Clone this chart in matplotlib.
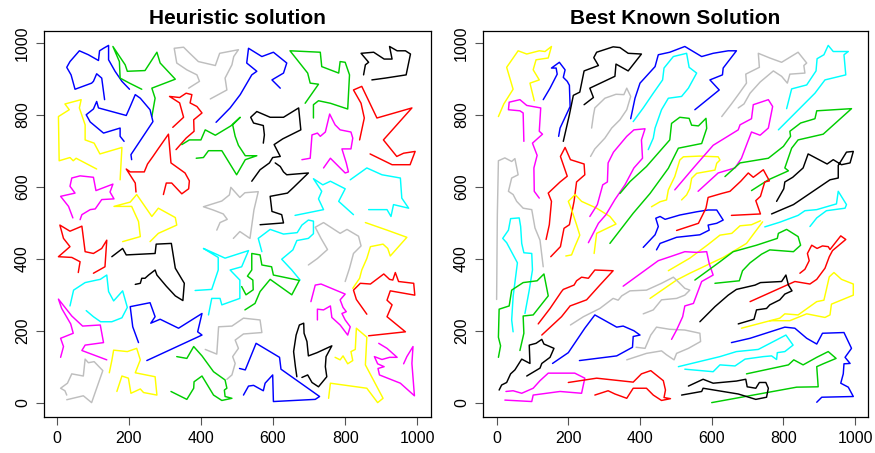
import matplotlib
matplotlib.use("Agg")
import matplotlib.pyplot as plt
from matplotlib import font_manager

# ---------------------------------------------------------------------------
# Route coordinates (x, y) for the heuristic solution
# ---------------------------------------------------------------------------
heur_01 = [(133,843),(125,903),(111,915),(102,894),(97,889),(51,872),(40,912),(28,933),(37,949),(63,979),(88,968),(116,952),(119,979),(130,986),(144,994),(144,954),(162,922),(181,894),(202,872)]
heur_02 = [(236,872),(202,889),(176,903),(174,949),(156,991),(190,940),(196,922),(245,924),(278,975),(287,945),(329,900),(264,875),(273,847),(264,796)]
heur_03 = [(366,875),(396,894),(389,912),(361,926),(333,945),(326,986),(352,989),(366,975),(393,949),(440,938),(452,972),(504,982),(491,963),(486,940),(467,903),(472,870),(426,845)]
heur_04 = [(442,780),(481,820),(509,857),(541,912),(555,922),(527,945),(532,986),(569,963),(601,975),(638,945),(629,917),(597,898),(620,875)]
heur_05 = [(111,650),(54,680),(46,673),(37,682),(7,673),(5,796),(35,815),(23,831),(68,843),(63,820),(79,773),(79,731),(104,722),(120,692),(181,710),(176,620)]
heur_06 = [(208,676),(206,690),(267,782),(259,815),(232,847),(218,857),(204,824),(193,799),(116,820),(111,838),(102,817),(82,801),(93,781),(130,750),(176,764),(176,741),(187,727)]
heur_07 = [(322,766),(352,794),(341,834),(313,852),(341,849),(359,861),(375,857),(370,834),(389,824),(403,806),(380,787),(381,755),(359,736),(331,704)]
heur_08 = [(296,579),(304,611),(319,611),(347,581),(366,595),(368,617),(356,639),(317,667),(310,747),(280,704),(267,685),(252,664),(243,642),(204,642),(193,650),(218,611),(220,586)]
heur_09 = [(347,718),(368,731),(400,731),(412,759),(440,744),(483,770),(509,794),(488,773),(495,741),(504,716),(523,687),(555,687),(523,676),(499,634),(458,701),(421,701),(407,682),(387,680)]
heur_10 = [(45,514),(33,546),(11,574),(51,583),(37,602),(42,625),(65,631),(102,627),(109,590),(156,608),(148,586),(159,567),(125,565),(107,539),(93,537),(70,523),(65,509)]
heur_11 = [(183,448),(232,462),(227,504),(208,546),(159,546),(204,558),(222,579),(264,518),(282,541),(329,515),(333,494),(282,471),(259,448)]
heur_12 = [(444,480),(453,501),(473,510),(462,525),(434,536),(407,545),(458,561),(479,578),(483,599),(508,571),(522,584),(559,587),(547,536),(536,457),(508,476),(490,457)]
heur_13 = [(60,362),(65,392),(42,404),(5,406),(37,434),(19,457),(9,494),(37,477),(56,485),(70,491),(79,420),(102,415),(125,429),(139,452),(134,378),(102,360)]
heur_14 = [(153,406),(183,429),(193,411),(273,415),(276,441),(318,443),(329,374),(354,332),(350,284),(329,297),(304,324),(278,355),(273,369),(255,355),(245,346),(236,346),(232,332),(218,329)]
heur_15 = [(37,269),(47,313),(79,334),(111,341),(121,343),(139,355),(144,309),(158,283),(183,311),(196,265),(181,236),(153,225),(122,225),(102,239),(82,256)]
heur_16 = [(11,126),(19,156),(11,179),(46,193),(39,219),(14,262),(5,288),(42,241),(72,213),(121,216),(130,167),(79,160),(70,145),(139,119)]
heur_17 = [(28,8),(74,19),(97,0),(128,89),(104,114),(88,111),(79,121),(74,74),(42,80),(30,54),(11,40),(23,33),(28,21)]
heur_18 = [(146,83),(153,117),(158,146),(196,142),(222,151),(232,119),(218,83),(273,72),(278,21),(241,28),(232,38),(206,26),(199,68),(181,74),(167,31)]
heur_19 = [(227,167),(211,211),(204,267),(259,278),(268,253),(273,239),(261,221),(287,232),(338,207),(403,248),(391,197),(403,188),(250,117)]
heur_20 = [(333,128),(361,123),(380,156),(403,130),(435,86),(467,63),(472,40),(465,35),(467,17),(486,12),(458,6),(435,21),(403,74),(381,58),(380,40),(361,9),(317,31)]
heur_21 = [(384,312),(430,315),(448,369),(448,404),(407,429),(434,417),(467,402),(532,423),(513,378),(481,369),(508,341),(508,290),(458,272),(453,290),(430,290),(421,244)]
heur_23 = [(569,420),(559,457),(592,482),(629,469),(667,473),(680,494),(698,508),(712,505),(712,470),(698,457),(666,451),(655,425),(624,399),(652,369),(675,341)]
heur_24 = [(661,521),(740,537),(726,567),(735,588),(712,623),(738,606),(759,616),(800,595),(782,560),(823,523)]
heur_25 = [(814,620),(860,653),(902,634),(953,625),(957,569),(976,541),(934,551),(927,518),(916,537),(865,537)]
heur_26 = [(851,912),(856,940),(865,947),(844,972),(879,975),(908,956),(930,956),(923,991),(944,979),(967,979),(981,970),(969,912),(911,903),(874,898)]
heur_27 = [(689,833),(726,886),(703,889),(696,917),(647,979),(731,975),(735,935),(782,917),(786,949),(800,947),(812,912),(807,817),(759,833),(726,840),(712,829),(712,792)]
heur_28 = [(573,722),(576,745),(573,771),(546,778),(538,794),(555,810),(592,794),(629,794),(671,820),(677,759),(627,734),(603,718),(620,685),(599,682),(590,667),(564,648),(541,616)]
heur_29 = [(606,667),(620,657),(629,642),(638,634),(698,639),(657,599),(640,583),(592,574),(597,532),(624,523),(629,500),(564,495)]
heur_30 = [(680,676),(703,680),(708,745),(723,750),(731,741),(745,753),(757,803),(772,773),(786,759),(816,753),(821,736),(816,706),(791,706),(803,667),(809,642),(800,639),(759,680),(740,653)]
heur_31 = [(840,731),(853,792),(844,833),(823,870),(846,880),(888,792),(985,820),(906,731),(943,685),(962,694),(994,699),(980,662),(930,662),(869,692)]
heur_32 = [(698,383),(723,401),(751,426),(733,457),(717,488),(740,501),(786,471),(805,482),(837,463),(844,436),(823,415),(812,374),(800,337)]
heur_33 = [(821,318),(840,346),(846,369),(860,401),(870,434),(905,441),(918,429),(925,408),(971,460),(916,480),(856,501)]
heur_34 = [(522,258),(550,276),(564,309),(592,343),(652,300),(673,340),(601,355),(596,378),(569,383),(564,411),(541,415),(541,369),(529,352),(544,341),(545,314),(525,300),(513,323)]
heur_35 = [(412,148),(444,135),(449,211),(486,213),(518,235),(564,230),(569,195),(518,191),(495,174),(504,151),(488,128),(495,109),(486,77),(472,65)]
heur_36 = [(507,95),(523,91),(553,165),(618,126),(622,93),(729,17),(717,9),(601,3),(599,77),(578,54),(573,33),(546,48),(532,46),(518,21)]
heur_37 = [(666,72),(662,100),(657,142),(664,188),(673,216),(685,221),(686,193),(694,170),(698,130),(722,139),(763,158),(747,128),(745,100),(749,72),(726,44),(708,56),(696,77),(680,70)]
heur_38 = [(705,281),(717,327),(733,330),(800,302),(786,286),(794,265),(803,253),(791,248),(800,230),(814,211),(807,188),(786,216),(763,237),(759,269),(740,258),(723,260),(723,230)]
heur_39 = [(860,246),(831,287),(823,313),(842,332),(870,330),(907,358),(923,343),(932,341),(939,362),(948,337),(990,332),(993,299),(925,311),(916,285),(930,272),(916,239),(967,197),(865,186)]
heur_40 = [(772,126),(786,119),(794,130),(807,108),(821,117),(816,142),(828,148),(831,207),(860,182),(856,105),(905,12),(890,0),(860,40),(759,54),(754,12)]
heur_41 = [(893,165),(916,151),(944,126),(923,126),(902,120),(881,128),(890,108),(908,100),(891,95),(895,77),(953,54),(992,19),(985,109),(988,156),(971,128),(962,108)]

heur_routes = [heur_01, heur_02, heur_03, heur_04, heur_05, heur_06, heur_07, heur_08,
               heur_09, heur_10, heur_11, heur_12, heur_13, heur_14, heur_15, heur_16,
               heur_17, heur_18, heur_19, heur_20, heur_21, heur_23, heur_24,
               heur_25, heur_26, heur_27, heur_28, heur_29, heur_30, heur_31, heur_32,
               heur_33, heur_34, heur_35, heur_36, heur_37, heur_38, heur_39, heur_40,
               heur_41]
heur_colours = ["blue", "green", "gray", "blue", "yellow", "blue", "red", "red",
                "green", "magenta", "yellow", "gray", "red", "black", "cyan", "magenta",
                "gray", "yellow", "blue", "green", "cyan", "cyan", "cyan",
                "cyan", "black", "green", "black", "black", "magenta", "red", "gray",
                "yellow", "green", "gray", "blue", "black", "magenta", "red", "yellow",
                "magenta"]

# ---------------------------------------------------------------------------
# Route coordinates (x, y) for the best known solution
# ---------------------------------------------------------------------------
best_01 = [(5,796),(20,831),(46,872),(28,933),(60,979),(84,970),(119,979),(135,977),(153,991),(144,959),(110,954),(102,926),(119,898),(93,889),(105,840)]
best_02 = [(76,727),(74,806),(65,812),(33,815),(35,836),(65,843),(84,827),(123,820),(119,755),(128,747),(100,722),(113,688),(104,653),(105,588),(119,569)]
best_03 = [(130,843),(149,875),(169,914),(166,931),(153,931),(175,947),(191,926),(186,905),(197,894),(203,883),(205,824),(177,764),(173,741)]
best_04 = [(186,727),(203,801),(214,855),(232,864),(244,923),(284,938),(271,960),(279,975),(325,990),(344,988),(367,972),(404,970),(367,923),(333,942),(330,908),(260,875),(270,849),(244,829)]
best_05 = [(262,685),(274,706),(302,736),(321,764),(344,787),(363,815),(374,852),(363,875),(355,857),(333,858),(302,847),(274,820),(270,799),(265,764)]
best_06 = [(374,790),(386,847),(400,889),(442,935),(451,968),(483,975),(525,991),(572,963),(604,972),(646,979),(669,979),(632,931),(630,912),(595,898),(621,870),(553,815)]
best_07 = [(381,782),(409,820),(437,861),(463,898),(467,931),(488,957),(493,963),(530,972),(537,933),(558,917),(535,875),(516,852),(479,847),(460,815),(442,764),(437,736),(423,704)]
best_08 = [(138,454),(147,495),(153,560),(144,583),(177,614),(197,630),(178,685),(191,710),(206,676),(244,664),(246,634),(223,614),(216,560),(203,495),(188,485),(178,434),(151,406)]
best_09 = [(0,287),(2,523),(5,673),(23,681),(42,671),(51,679),(60,634),(42,625),(33,588),(46,579),(56,560),(74,541),(98,537),(107,486),(121,452),(130,378)]
best_10 = [(46,197),(42,230),(46,295),(58,389),(28,445),(17,457),(33,480),(39,512),(63,514),(67,490),(70,443),(76,417),(98,415),(100,369),(91,313),(79,248)]
best_11 = [(193,408),(209,411),(219,436),(232,466),(223,495),(209,537),(200,560),(219,579),(237,560),(279,541),(316,518),(333,497),(279,471),(272,415)]
best_12 = [(260,518),(281,551),(296,606),(309,614),(311,667),(326,697),(363,741),(383,759),(414,762),(404,731),(407,680),(383,653),(358,606),(330,565),(305,523),(284,499),(256,445)]
best_13 = [(344,582),(372,615),(418,657),(483,731),(488,777),(511,794),(537,791),(544,772),(563,770),(584,791),(586,763),(572,721),(507,708),(479,652),(428,582),(381,527),(316,443)]
best_14 = [(432,545),(456,559),(474,564),(479,592),(497,629),(511,675),(521,684),(567,686),(618,684),(623,675),(614,666),(609,647),(558,638),(544,624),(539,596),(530,578),(516,564)]
best_15 = [(409,432),(442,467),(451,490),(444,513),(456,518),(470,510),(511,522),(558,531),(590,536),(614,536),(632,508),(614,499),(590,494),(593,480),(567,467),(502,460),(456,443),(446,425)]
best_17 = [(628,796),(655,831),(677,861),(697,889),(695,914),(733,933),(730,972),(762,959),(795,947),(841,975),(865,945),(857,938),(860,917),(818,914),(811,889),(795,908),(772,923),(735,892),(707,861),(690,831),(674,820)]
best_18 = [(809,818),(823,873),(865,884),(891,923),(894,957),(913,968),(925,994),(939,977),(981,977),(969,968),(974,912),(916,898),(888,861),(851,824),(786,759)]
best_19 = [(497,592),(549,653),(604,716),(674,759),(679,773),(711,790),(716,829),(758,843),(770,824),(758,764),(735,744),(711,753),(699,722),(683,680),(665,653),(618,639),(562,588)]
best_20 = [(637,629),(679,667),(758,680),(800,713),(820,741),(818,755),(848,778),(888,790),(893,812),(990,818),(911,747),(841,731),(823,708),(804,653),(814,645),(758,620),(711,590)]
best_21 = [(781,560),(801,595),(804,614),(826,627),(855,653),(869,692),(922,664),(939,676),(962,662),(986,667),(995,699),(976,697),(953,660),(953,625),(930,620),(828,551),(795,537),(767,525)]
best_22 = [(655,521),(736,525),(723,562),(736,574),(748,614),(761,617),(744,648),(716,627),(702,639),(681,616),(651,588),(628,582),(590,571),(584,541),(563,499),(502,479)]
best_23 = [(748,489),(790,502),(841,521),(860,534),(893,537),(948,553),(953,588),(976,551),(972,541),(920,534),(893,514),(874,490)]
best_24 = [(479,367),(539,402),(590,440),(623,466),(656,471),(679,492),(711,495),(736,506)]
best_25 = [(428,290),(502,341),(539,360),(632,404),(697,443),(742,503)]
best_26 = [(206,216),(242,239),(288,262),(325,290),(339,285),(349,297),(372,311),(418,313),(460,332),(493,349),(509,334),(525,318),(539,313),(525,299),(502,290),(460,286),(437,258),(409,247)]
best_27 = [(389,154),(414,151),(430,188),(446,210),(483,204),(525,202),(567,193),(569,170),(535,151),(502,137),(495,119),(474,133),(460,144),(418,137),(363,119)]
best_28 = [(7,35),(14,49),(28,56),(39,80),(51,91),(70,121),(93,109),(91,160),(110,165),(126,176),(132,163),(160,151),(149,126),(126,109),(121,96),(84,74)]
best_29 = [(5,126),(11,158),(5,182),(7,260),(35,269),(42,313),(74,334),(113,339),(132,358),(144,297),(102,244),(74,241),(76,193),(65,145)]
best_30 = [(116,219),(149,262),(181,309),(186,315),(216,327),(223,339),(237,349),(256,346),(274,369),(325,367),(288,327),(251,286),(205,269),(181,239),(126,188)]
best_31 = [(156,109),(200,139),(246,207),(274,244),(335,210),(353,213),(383,200),(400,188),(381,184),(379,154),(335,130),(231,117)]
best_32 = [(23,7),(98,3),(102,21),(177,31),(237,26),(246,68),(218,82),(144,82),(121,61),(102,40),(70,26),(46,33),(26,31)]
best_33 = [(200,56),(279,68),(381,57),(404,80),(430,89),(465,61),(471,35),(467,14),(485,11),(460,6),(437,21),(418,40),(381,40),(363,12),(330,24),(311,33),(274,21)]
best_34 = [(353,324),(451,395),(484,406),(525,420),(558,418),(586,420),(593,387),(604,355),(572,337),(549,276),(525,269),(519,239),(502,202),(488,176)]
best_35 = [(553,341),(623,392),(660,420),(725,438),(783,457),(786,471),(809,482),(841,462),(848,438),(828,420),(762,425),(739,413),(707,389),(686,367),(677,339),(609,332)]
best_36 = [(846,360),(860,371),(872,395),(867,415),(879,438),(894,429),(909,436),(925,434),(930,426),(960,464),(974,454),(937,423),(928,406),(916,374),(893,343),(874,330),(832,337),(707,281)]
best_37 = [(567,225),(609,267),(646,299),(669,315),(721,327),(736,334),(795,337),(807,355),(814,327),(824,311),(804,302),(790,286),(762,272),(753,262),(725,258),(718,232),(674,219)]
best_38 = [(683,207),(790,235),(804,247),(841,244),(893,281),(913,285),(920,315),(928,350),(941,362),(962,343),(995,330),(995,299),(934,274),(930,244),(916,237),(865,247),(818,228),(762,228)]
best_39 = [(655,167),(707,179),(804,210),(832,207),(865,179),(893,163),(909,193),(969,195),(990,151),(972,126),(986,109),(969,108),(967,80),(960,54),(981,43),(995,17),(907,15),(893,1)]
best_40 = [(507,100),(623,128),(669,142),(730,148),(807,188),(827,160),(804,142),(783,139),(781,120),(767,130),(744,128),(693,121),(665,102),(623,105),(604,86),(525,93)]
best_41 = [(697,80),(814,105),(829,119),(855,105),(893,126),(925,142),(947,123),(911,108),(893,100),(897,44),(837,43),(600,0)]
best_42 = [(535,46),(576,65),(604,54),(669,60),(695,65),(699,44),(723,40),(733,56),(751,56),(758,40),(753,15),(723,9),(674,24),(576,40),(572,31),(516,21)]

best_routes = [best_01, best_02, best_03, best_04, best_05, best_06, best_07, best_08,
               best_09, best_10, best_11, best_12, best_13, best_14, best_15,
               best_17, best_18, best_19, best_20, best_21, best_22, best_23, best_24,
               best_25, best_26, best_27, best_28, best_29, best_30, best_31, best_32,
               best_33, best_34, best_35, best_36, best_37, best_38, best_39, best_40,
               best_41, best_42]
best_colours = ["yellow", "magenta", "blue", "black", "gray", "blue", "cyan", "red",
                "gray", "cyan", "yellow", "magenta", "green", "yellow", "blue",
                "gray", "cyan", "magenta", "green", "black", "red", "cyan", "yellow",
                "yellow", "gray", "gray", "black", "green", "red", "blue", "magenta",
                "red", "magenta", "green", "red", "black", "yellow", "blue", "cyan",
                "green", "black"]

tick_values = [0, 200, 400, 600, 800, 1000]
panel_titles = ["Heuristic solution", "Best Known Solution"]

# R's classic default palette
palette = {"black": "#000000", "red": "#FF0000", "green": "#00CD00",
           "blue": "#0000FF", "cyan": "#00FFFF", "magenta": "#FF00FF",
           "yellow": "#FFFF00", "gray": "#BEBEBE"}

installed = {f.name for f in font_manager.fontManager.ttflist}
text_font = "Liberation Sans" if "Liberation Sans" in installed else "DejaVu Sans"
title_font = "Liberation Sans Narrow" if "Liberation Sans Narrow" in installed else text_font
plt.rcParams["font.family"] = [text_font, "DejaVu Sans"]


def draw_panel(ax, routes, colours, title, xlim, ylim):
    for pts, col in zip(routes, colours):
        xs = [p[0] for p in pts]
        ys = [p[1] for p in pts]
        ax.plot(xs, ys, color=palette[col], lw=1.05,
                solid_joinstyle="round", solid_capstyle="round")
    ax.set_xlim(*xlim)
    ax.set_ylim(*ylim)
    ax.set_xticks(tick_values)
    ax.set_yticks(tick_values)
    ax.tick_params(direction="out", length=5.5, width=0.8, color="#555555",
                   labelsize=11.5, pad=4.5, labelcolor="black")
    plt.setp(ax.get_yticklabels(), rotation=90, va="center")
    for s in ax.spines.values():
        s.set_linewidth(0.9)
        s.set_color("black")
    ax.set_title(title, fontweight="bold", fontsize=15, pad=5,
                 family=[title_font, "DejaVu Sans"])


fig = plt.figure(figsize=(8.75, 4.53), dpi=100)
ax_left = fig.add_axes([0.0503, 0.0795, 0.4423, 0.852])
ax_right = fig.add_axes([0.552, 0.0795, 0.440, 0.852])

draw_panel(ax_left, heur_routes, heur_colours, panel_titles[0], (-35, 1038), (-40, 1034))
draw_panel(ax_right, best_routes, best_colours, panel_titles[1], (-38, 1036), (-40, 1034))

fig.savefig("out.png", dpi=100, facecolor="white")
